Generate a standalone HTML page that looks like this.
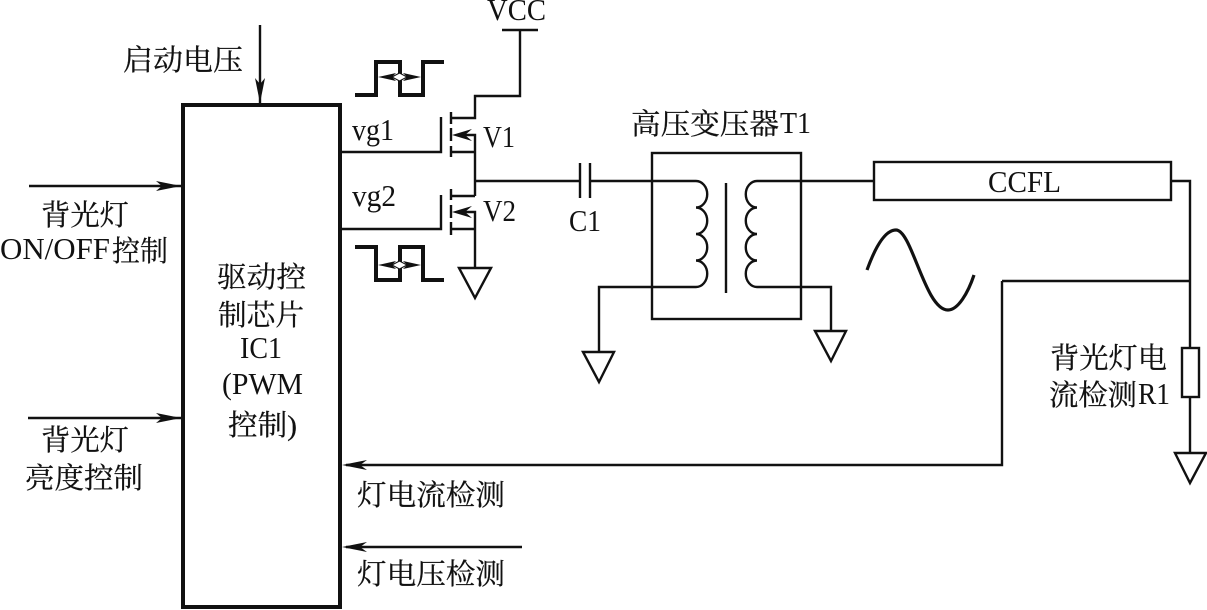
<!DOCTYPE html>
<html><head><meta charset="utf-8">
<style>
html,body{margin:0;padding:0;background:#fff;width:1207px;height:610px;overflow:hidden}
svg{display:block}
text{font-family:"Liberation Serif","Noto Serif CJK SC",serif;font-size:29px;fill:#111;stroke:#111;stroke-width:.25}
.n{font-size:31px;stroke-width:0}
.l{fill:none;stroke:#111;stroke-width:2.4}
.t{fill:none;stroke:#111;stroke-width:2.4;stroke-linejoin:miter}
.p{fill:none;stroke:#111;stroke-width:4}
.a{fill:#111;stroke:none}
</style></head><body>
<svg width="1207" height="610" viewBox="0 0 1207 610" xmlns="http://www.w3.org/2000/svg">
<!-- IC -->
<rect x="183" y="105" width="157" height="502" fill="none" stroke="#111" stroke-width="4"/>
<!-- input arrows -->
<path class="l" d="M260 25V103M29 186H181M28 418H181M1002 281H1190M1002 281V465H346M346 547H522"/>
<path class="a" d="M260 103L255 78L260 84L265 78Z"/>
<path class="a" d="M181 186L156 181L162 186L156 191Z"/>
<path class="a" d="M181 418L156 413L162 418L156 423Z"/>
<path class="a" d="M342 465L367 460L360 465L367 470Z"/>
<path class="a" d="M342 547L367 542L360 547L367 552Z"/>
<!-- pulses -->
<path class="p" d="M355 95H376V62H400V95H423V62H444"/>
<path class="p" d="M355 247H376V280H400V247H423V280H444"/>
<path class="a" d="M378 77L396 73L392 77L396 81ZM421 77L403 73L407 77L403 81Z"/>
<path class="a" d="M378 265L396 261L392 265L396 269ZM421 265L403 261L407 265L403 269Z"/>
<path d="M392 77L399.500 73L407 77L399.500 81Z M392 265L399.500 261L407 265L399.500 269Z" fill="#fff" stroke="#111" stroke-width="1"/>
<!-- MOSFETs -->
<path class="l" d="M340 152H441V117M451 112V124M451 128V141M451 146V157M451 118H475V96H520V30M502 30H538M451 152H475M458 135H475V196M475 181H580M580 163V198M590 163V198"/>
<path class="l" d="M340 229H441V195M451 189V200M451 205V218M451 222V235M451 196H475M451 229H475M458 212H475V268"/>
<path class="a" d="M452 135L472 129L465 135L472 141Z"/>
<path class="a" d="M452 212L472 206L465 212L472 218Z"/>
<path class="t" d="M459 268H491L475 298Z"/>
<!-- transformer -->
<rect x="652" y="153" width="149" height="166" fill="none" stroke="#111" stroke-width="2.4"/>
<path class="l" d="M590 181H696A11 13 0 0 1 696 207.500A11 13 0 0 1 696 234A11 13 0 0 1 696 260.500A11 13 0 0 1 696 287H599V352"/>
<path class="l" d="M874 181H757A11 13 0 0 0 757 207.500A11 13 0 0 0 757 234A11 13 0 0 0 757 260.500A11 13 0 0 0 757 287H831V331"/>
<path class="l" d="M726 183V293"/>
<path class="t" d="M583 352H614L599 382Z"/>
<path class="t" d="M815 331H846L831 361Z"/>
<!-- CCFL -->
<rect x="874" y="162" width="297" height="38" fill="none" stroke="#111" stroke-width="2.4"/>
<path class="l" d="M1171 181H1190V348M1190 397V453"/>
<rect x="1182" y="348" width="17" height="49" fill="none" stroke="#111" stroke-width="2.4"/>
<path class="t" d="M1175 453H1206L1190 483Z"/>
<path fill="none" stroke="#111" stroke-width="3.2" d="M867 270C875 248 885 230 896 230C912 230 925 310 948 310C958 310 968 293 974 275"/>
<!-- labels -->
<text x="123" y="70" textLength="120" lengthAdjust="spacingAndGlyphs">启动电压</text>
<text x="41" y="225" textLength="88" lengthAdjust="spacingAndGlyphs">背光灯</text>
<text class="n" x="0" y="259" textLength="110" lengthAdjust="spacingAndGlyphs">ON/OFF</text>
<text x="112" y="261" textLength="56" lengthAdjust="spacingAndGlyphs">控制</text>
<text x="41" y="450" textLength="88" lengthAdjust="spacingAndGlyphs">背光灯</text>
<text x="25" y="488" textLength="118" lengthAdjust="spacingAndGlyphs">亮度控制</text>
<text x="217" y="287" textLength="89" lengthAdjust="spacingAndGlyphs">驱动控</text>
<text x="218" y="325" textLength="86" lengthAdjust="spacingAndGlyphs">制芯片</text>
<text class="n" x="240" y="358" textLength="42" lengthAdjust="spacingAndGlyphs">IC1</text>
<text class="n" x="222" y="394" textLength="81" lengthAdjust="spacingAndGlyphs">(PWM</text>
<text x="228" y="435" textLength="69" lengthAdjust="spacingAndGlyphs">控制)</text>
<text class="n" x="352" y="140" textLength="42" lengthAdjust="spacingAndGlyphs">vg1</text>
<text class="n" x="352" y="206" textLength="44" lengthAdjust="spacingAndGlyphs">vg2</text>
<text class="n" x="483" y="147" textLength="32" lengthAdjust="spacingAndGlyphs">V1</text>
<text class="n" x="483" y="221" textLength="33" lengthAdjust="spacingAndGlyphs">V2</text>
<text class="n" x="487" y="20" textLength="59" lengthAdjust="spacingAndGlyphs">VCC</text>
<text class="n" x="569" y="231" textLength="32" lengthAdjust="spacingAndGlyphs">C1</text>
<text x="631" y="134" textLength="148" lengthAdjust="spacingAndGlyphs">高压变压器</text>
<text class="n" x="780" y="133" textLength="31" lengthAdjust="spacingAndGlyphs">T1</text>
<text class="n" x="988" y="192" textLength="73" lengthAdjust="spacingAndGlyphs">CCFL</text>
<text x="1050" y="368" textLength="117" lengthAdjust="spacingAndGlyphs">背光灯电</text>
<text x="1049" y="405" textLength="88" lengthAdjust="spacingAndGlyphs">流检测</text>
<text class="n" x="1138" y="404" textLength="32" lengthAdjust="spacingAndGlyphs">R1</text>
<text x="357" y="505" textLength="148" lengthAdjust="spacingAndGlyphs">灯电流检测</text>
<text x="357" y="584" textLength="148" lengthAdjust="spacingAndGlyphs">灯电压检测</text>
</svg>
</body></html>
